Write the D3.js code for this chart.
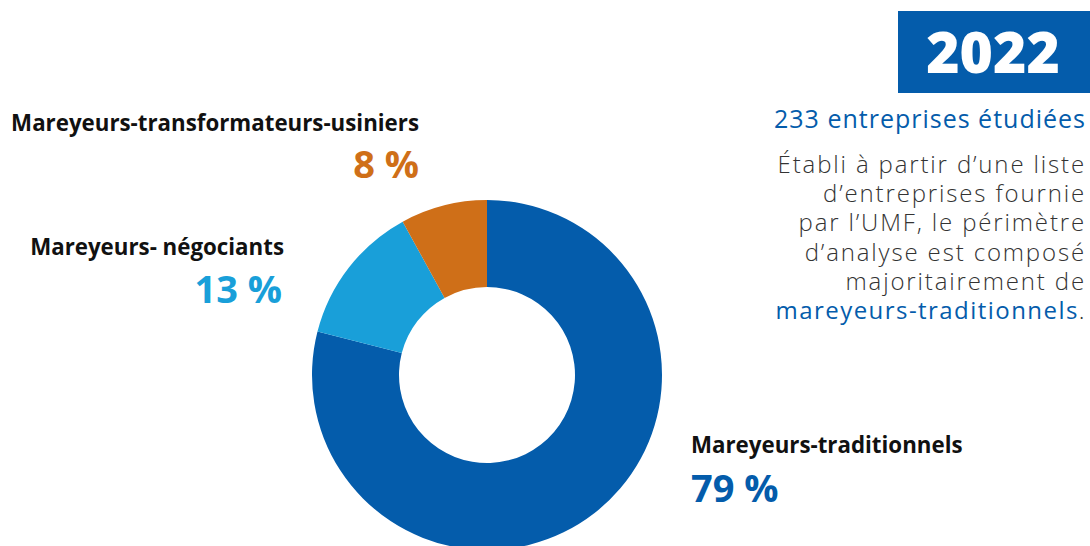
<!DOCTYPE html>
<html>
<head>
<meta charset="utf-8">
<script src="https://cdn.jsdelivr.net/npm/d3@7"></script>
<style>
  body { margin: 0; background: #fff; }
  svg { display: block; font-family: 'Open Sans', sans-serif; font-variant-ligatures: none; }
</style>
</head>
<body>
<svg id="chart"></svg>
<script>
const w = 1090, h = 546;
const blue = '#045cab', lightBlue = '#199fd9', orange = '#cf6f18', textGrey = '#333333';

// data (clockwise from 12 o'clock)
const categories = ['Mareyeurs-traditionnels', 'Mareyeurs- négociants', 'Mareyeurs-transformateurs-usiniers'];
const shares = [79, 13, 8];
const colors = [blue, lightBlue, orange];
const year = '2022';
const subtitle = '233 entreprises étudiées';
const noteLines = [
    'Établi à partir d\u2019une liste',
    'd\u2019entreprises fournie',
    'par l\u2019UMF, le périmètre',
    'd\u2019analyse est composé',
    'majoritairement de'
];
const noteLast = 'mareyeurs-traditionnels';

const pieCenter = { x: 487, y: 375 }, outerR = 175, innerR = 88;

// where each category label sits
const labelPos = [
    { x: 691, yName: 453, yVal: 502, anchor: 'start' },
    { x: 284, yName: 255, yVal: 303, anchor: 'end' },
    { x: 419, yName: 131, yVal: 178, anchor: 'end' }
];

const chart = d3.select('#chart')
    .attr('width', w)
    .attr('height', h);

const data = categories.map((c, i) => ({ name: c, value: shares[i], color: colors[i] }));

const pie = d3.pie()
    .value(d => d.value)
    .sort(null);

const arc = d3.arc()
    .innerRadius(innerR)
    .outerRadius(outerR);

chart.append('g')
    .attr('transform', `translate(${pieCenter.x}, ${pieCenter.y})`)
    .selectAll('path')
    .data(pie(data))
    .enter()
    .append('path')
    .attr('d', arc)
    .style('fill', d => d.data.color);

// category labels and their percentages
const labels = chart.selectAll('.cat-label')
    .data(data)
    .enter()
    .append('g')
    .attr('class', 'cat-label');

labels.append('text')
    .attr('x', (d, i) => labelPos[i].x)
    .attr('y', (d, i) => labelPos[i].yName)
    .attr('text-anchor', (d, i) => labelPos[i].anchor)
    .attr('font-size', '22.3px')
    .attr('font-weight', 700)
    .style('fill', '#111')
    .text(d => d.name);

labels.append('text')
    .attr('x', (d, i) => labelPos[i].x - (i == 1 ? 2 : 0))
    .attr('y', (d, i) => labelPos[i].yVal)
    .attr('text-anchor', (d, i) => labelPos[i].anchor)
    .attr('font-size', '38px')
    .attr('font-weight', 700)
    .style('fill', d => d.color)
    .text(d => `${d.value} %`);

// year box in the top right corner
chart.append('rect')
    .attr('x', 898)
    .attr('y', 11)
    .attr('width', w - 898)
    .attr('height', 82)
    .style('fill', blue);

chart.append('text')
    .attr('x', 993)
    .attr('y', 73)
    .attr('text-anchor', 'middle')
    .attr('font-size', '57px')
    .attr('font-weight', 800)
    .style('fill', '#fff')
    .text(year);

chart.append('text')
    .attr('x', 1086)
    .attr('y', 128)
    .attr('text-anchor', 'end')
    .attr('font-size', '25px')
    .attr('letter-spacing', '1px')
    .style('fill', blue)
    .text(subtitle);

// explanatory note, right aligned
const noteY = i => 173 + i * 29.2;

chart.selectAll('.note')
    .data(noteLines)
    .enter()
    .append('text')
    .attr('class', 'note')
    .attr('x', 1086)
    .attr('y', (d, i) => noteY(i))
    .attr('text-anchor', 'end')
    .attr('font-size', '24px')
    .attr('font-weight', 300)
    .attr('letter-spacing', '1.85px')
    .style('fill', textGrey)
    .text(d => d);

const last = chart.append('text')
    .attr('x', 1086)
    .attr('y', noteY(noteLines.length))
    .attr('text-anchor', 'end')
    .attr('font-size', '24px')
    .attr('letter-spacing', '1.45px');
last.append('tspan').style('fill', blue).text(noteLast);
last.append('tspan').style('fill', textGrey).attr('font-weight', 300).text('.');
</script>
</body>
</html>
